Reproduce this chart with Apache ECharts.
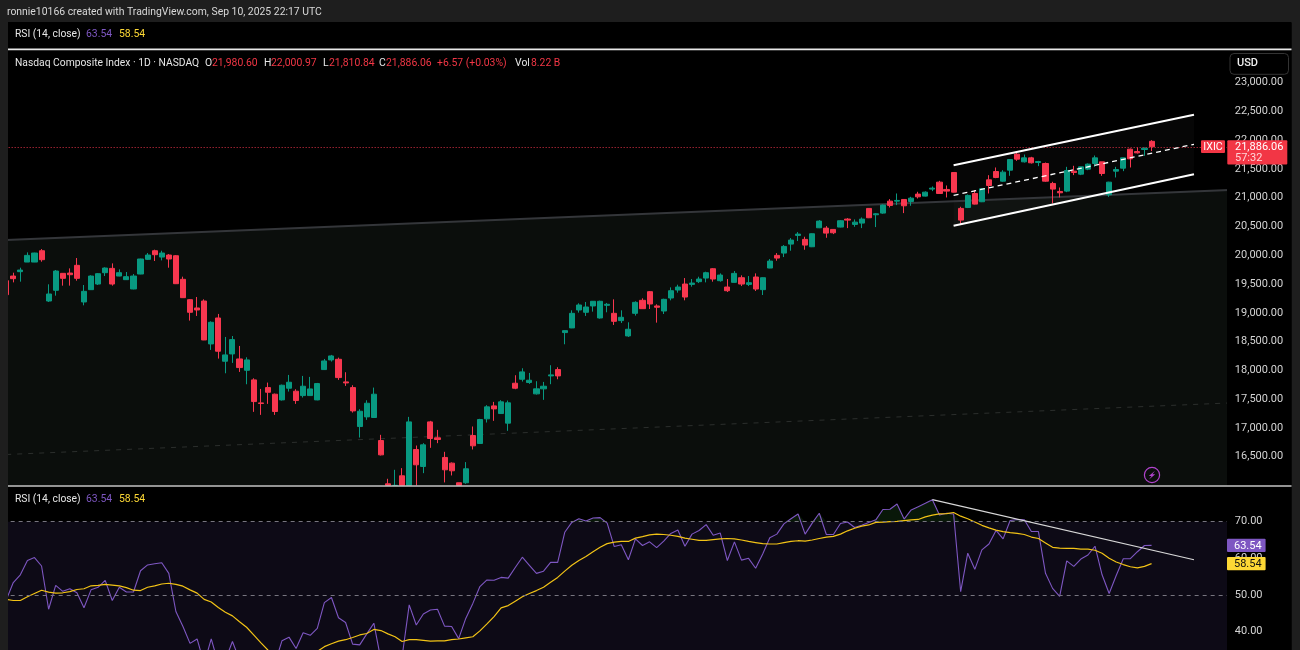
<!DOCTYPE html>
<html><head><meta charset="utf-8">
<style>html,body{margin:0;padding:0;background:#000}#c{width:1300px;height:650px}</style>
<script src="https://cdn.jsdelivr.net/npm/echarts@6/dist/echarts.min.js"></script>
</head><body><div id="c"></div>
<script>
const opens=[19558,19639,19715,19882,19882,20079,19205,19391,19686,19691,19825,19188,19402,19500,19697,19772,19639,19576,19414,19674,19929,20079,19969,20004,19992,19582,19228,19084,19205,18459,18910,18158,18285,18198,18001,17834,17434,17700,17585,17486,17689,17637,17561,17561,17486,18013,18181,18192,17799,17700,17023,17191,17180,16780,16028,15600,16167,15750,16624,16329,17104,16827,16486,16387,16046,16046,16867,16729,17157,17382,17249,17082,17776,17845,17788,17591,17678,17903,18013,18656,18737,19049,19009,19119,18910,19130,18991,18864,18598,18991,19217,19367,19119,19031,19257,19396,19500,19494,19541,19604,19766,19558,19448,19529,19610,19494,19622,19402,19778,19998,20038,20194,20345,20276,20148,20478,20472,20449,20490,20629,20536,20559,20814,20704,20733,20941,20941,20970,20935,21063,21028,21150,21271,21144,21439,20814,20831,21074,20930,21311,21456,21288,21479,21757,21624,21693,21612,21595,21248,21109,21115,21462,21410,21497,21595,21624,21051,21462,21514,21844,21803,21838,21980.6];
const closes=[19315,19593,19743,19998,20039,19923,19327,19726,19599,19662,19599,19373,19639,19680,19778,19500,19697,19628,19639,19935,20004,20010,20039,19935,19506,19263,19009,19049,18528,18835,18332,18268,18534,18048,18181,17457,17423,17619,17284,17741,17793,17475,17724,17677,17770,18163,18250,17874,17781,17295,17289,17428,17585,16531,15850,15900,15800,17104,16358,16705,16815,16798,16271,16254,15850,16289,16688,17145,17365,17330,17452,17435,17689,17973,17828,17678,17724,17921,17903,18690,18991,19136,19101,19200,19200,19148,18852,18922,18714,19182,19072,19153,19096,19234,19384,19448,19274,19517,19587,19697,19587,19656,19384,19685,19500,19523,19413,19610,19899,19951,20154,20264,20368,20177,20374,20594,20385,20391,20600,20611,20576,20629,20652,20721,20872,20866,20953,20860,20993,21016,21097,21167,21074,21115,21097,20611,21040,20889,21155,21213,21352,21445,21665,21670,21693,21607,21630,21288,21150,21086,21474,21439,21537,21584,21693,21421,21271,21491,21693,21676,21780,21861,21886.06];
const lows=[19300,19529,19541,19882,19880,19888,19188,19298,19472,19472,19558,19130,19400,19483,19639,19472,19635,19570,19408,19670,19917,19900,19911,19784,19500,19257,18864,18945,18525,18355,18204,17949,18129,17972,17758,17278,17226,17417,17226,17475,17631,17417,17527,17556,17480,18007,18152,17834,17729,17266,16832,17139,17174,16520,15700,15500,15700,15600,15900,16213,16653,16734,16052,16173,15800,16028,16624,16723,17093,17122,17244,16948,17672,17805,17764,17579,17487,17759,17845,18453,18733,19003,18945,19020,18899,19009,18789,18823,18580,18951,19066,19066,18829,18979,19217,19350,19217,19454,19517,19529,19541,19541,19361,19523,19465,19465,19379,19309,19775,19905,19969,20079,20247,20096,20142,20472,20304,20368,20484,20472,20495,20472,20646,20490,20721,20831,20872,20733,20860,20987,21022,21115,21070,21005,21091,20542,20820,20883,20924,21074,21340,21277,21381,21641,21612,21595,21549,21277,20901,21005,21097,21393,21393,21479,21537,21381,21016,21352,21462,21526,21769,21728,21810.84];
const highs=[19580,19697,19784,20050,20044,20108,19495,19744,19691,19772,19952,19483,19651,19691,19790,19859,19755,19709,19674,19940,20039,20097,20079,20021,20004,19628,19240,19275,19234,18852,18980,18580,18597,18424,18227,17862,17677,17787,17596,17752,17920,17671,17903,17886,17781,18198,18268,18221,17967,17741,17324,17480,17700,16879,16115,16271,16300,17191,16693,16734,17122,16965,16584,16399,16046,16405,17024,17157,17394,17452,17481,17475,17915,18036,17955,17811,17799,18089,18054,18690,19043,19165,19188,19205,19211,19171,19234,19043,18835,19200,19252,19379,19148,19245,19442,19488,19604,19587,19627,19714,19778,19685,19587,19726,19651,19639,19685,19616,19934,20038,20177,20299,20403,20322,20380,20611,20507,20455,20611,20646,20623,20657,20820,20733,20883,20976,21074,20976,21016,21103,21110,21196,21294,21213,21445,20843,21057,21132,21167,21392,21526,21479,21665,21786,21751,21711,21641,21612,21277,21178,21537,21555,21537,21595,21734,21624,21277,21537,21693,21855,21873,21873,22000.97];
const rsiValues=[48.6,53.4,55.5,59.4,60.2,57.9,46.1,52.6,51.0,51.7,50.6,46.5,51.4,52.1,54.0,48.5,52.1,50.8,50.8,56.6,58.2,58.5,58.8,55.9,45.5,41.4,36.8,38.0,31.3,38.0,31.3,32.3,37.3,32.3,30.4,27.7,25.9,26.3,31.3,37.5,38.5,35.4,39.7,39.0,40.9,47.9,49.3,43.8,42.5,36.6,36.4,39.4,42.3,32.3,30.4,30.4,33.2,47.3,41.8,44.8,45.9,46.1,41.5,41.4,38.1,43.6,47.7,52.3,54.1,54.0,54.8,54.6,57.5,60.3,58.1,55.9,56.5,58.9,58.9,67.1,69.8,70.8,70.2,71.0,71.1,69.6,63.2,63.7,59.6,65.3,63.5,64.5,62.9,64.7,66.8,67.7,63.3,66.6,67.6,69.2,66.3,66.9,59.4,64.5,59.5,60.0,57.3,61.2,65.6,66.6,69.4,70.8,72.1,66.6,69.6,72.3,66.5,66.5,69.5,69.9,68.4,69.0,69.8,70.5,73.3,73.4,74.8,70.7,73.2,74.1,75.0,76.0,71.8,72.3,72.1,50.9,61.4,57.0,62.3,63.9,67.6,65.3,70.3,70.6,70.5,67.3,67.3,55.9,51.8,49.6,59.3,57.8,59.8,60.9,63.3,55.5,50.4,55.3,59.9,59.9,61.8,63.5,63.54];
const rsiMA=[48.8,48.5,48.5,49.5,50.4,51.3,50.8,50.5,50.6,50.9,51.5,51.7,52.5,52.6,52.9,52.7,52.5,52.0,51.3,51.2,52.1,52.5,53.0,53.2,52.9,52.4,51.4,50.5,48.8,48.1,46.6,45.3,44.3,42.7,41.2,39.1,37.0,35.0,33.6,32.7,32.1,31.8,32.4,33.6,34.6,35.9,36.7,37.4,37.8,38.4,39.1,39.5,40.6,40.3,39.4,38.6,37.3,37.8,37.8,37.6,37.4,37.5,37.5,37.8,38.0,38.3,38.6,40.2,42.1,44.1,46.5,47.1,48.3,49.5,50.4,51.2,52.1,53.5,54.8,56.5,58.1,59.4,60.5,61.8,63.0,64.0,64.4,64.6,64.6,65.5,65.9,66.4,66.6,66.5,66.3,66.0,65.5,65.2,64.9,64.9,65.1,65.3,65.4,65.3,65.0,64.6,64.3,64.0,63.9,63.9,64.3,64.6,64.8,64.7,65.0,65.4,65.8,66.0,66.6,67.5,68.2,68.8,69.1,69.8,69.9,70.0,70.1,70.3,70.5,70.6,71.3,71.8,72.1,72.2,72.5,71.5,70.8,69.9,69.0,68.3,67.7,67.3,67.0,66.8,66.5,65.8,65.4,64.2,63.0,62.8,62.7,62.7,62.5,62.5,62.2,61.4,60.0,59.0,58.3,57.7,57.4,57.8,58.54];
// drawings, as [bar index, value]
const channelTop=[[134,21564],[168,22443]];
const channelMid=[[134,21042],[168,21929]];
const channelBottom=[[134,20514],[168,21407]];
const regressionUpper=[[0,20265],[173,21136]];
const regressionLower=[[0,16537],[173,17433]];
const rsiTrend=[[131,76.0],[168,59.6]];
const lastClose=21886.06, lastRsi=63.54, lastMA=58.54;
const paneFloor=16000;

const categories=Array.from({length:174},(_,i)=>String(i));
const floorAt=v=>Math.max(v,paneFloor);
const ohlc=opens.map((o,i)=>[floorAt(o),floorAt(closes[i]),floorAt(lows[i]),floorAt(highs[i])]);
const UP='#089981',DOWN='#f7374f',FONT='Roboto, "Noto Sans", sans-serif';
const fmt=v=>v.toLocaleString('en-US',{minimumFractionDigits:2,maximumFractionDigits:2});
const band=(a,b,fill,z)=>({type:'custom',xAxisIndex:0,yAxisIndex:0,silent:true,z,
  data:[[a[0][0],a[0][1],b[0][1],a[1][0],a[1][1],b[1][1]]],
  renderItem:(p,api)=>{const v=api.value;
    const pts=[api.coord([v(0),v(1)]),api.coord([v(3),v(4)]),api.coord([v(3),v(5)]),api.coord([v(0),v(2)])];
    return {type:'polygon',shape:{points:pts},style:{fill}};}});
const seg=(data,color,width,dash,x,z)=>({type:'line',xAxisIndex:x,yAxisIndex:x,data,symbol:'none',silent:true,z:z||3,clip:true,
  lineStyle:{color,width,type:dash||'solid'}});
const axisCommon=(skip)=>({type:'value',position:'right',scale:false,splitLine:{show:false},axisLine:{show:false},axisTick:{show:false},z:110,
  axisLabel:{color:'#d4d4d4',fontFamily:FONT,fontSize:11,margin:2,padding:[5,0,0,0],showMinLabel:true,showMaxLabel:true,
    formatter:v=>skip.includes(v)?'':fmt(v)}});
const option={animation:false,backgroundColor:'#000',
 grid:[{left:2.67,top:53.9,width:1230.2,height:431.5,outerBoundsMode:'none'},{left:2.67,top:485,width:1230.2,height:183.3,outerBoundsMode:'none'}],
 xAxis:[0,1].map(g=>({type:'category',gridIndex:g,data:categories,show:false,boundaryGap:true})),
 yAxis:[
  Object.assign(axisCommon([16000,23500]),{gridIndex:0,min:16000,max:23500,interval:500}),
  Object.assign(axisCommon([30,80]),{gridIndex:1,min:30,max:80,interval:10})
 ],
 series:[
  band(regressionUpper,[[0,16000],[173,16000]],'#0b0e0c',0),
  band(channelTop,channelBottom,'rgba(255,255,255,0.022)',1),
  seg(regressionLower,'#2b2e2c',1,[5,6],0,2),
  seg(regressionUpper,'#34363a',2,null,0,2),
  {type:'candlestick',xAxisIndex:0,yAxisIndex:0,data:ohlc,barWidth:5.6,z:4,silent:true,clip:true,
   itemStyle:{color:UP,color0:DOWN,borderColor:UP,borderColor0:DOWN,borderWidth:1},
   markLine:{silent:true,symbol:'none',label:{show:false},animation:false,
     lineStyle:{color:'#f7374f',type:[1,2],width:1,opacity:.9},data:[{yAxis:lastClose}]}},
  seg(channelTop,'#ffffff',2,null,0,5),
  seg(channelBottom,'#ffffff',2,null,0,5),
  seg(channelMid,'#ffffff',1.3,[5,4],0,5),
  {type:'line',xAxisIndex:1,yAxisIndex:1,data:rsiValues.map(v=>Math.max(v,70)),symbol:'none',silent:true,z:2,
   lineStyle:{opacity:0},areaStyle:{origin:70,color:'rgba(40,110,40,0.22)',opacity:1}},
  {type:'line',xAxisIndex:1,yAxisIndex:1,data:rsiValues,symbol:'none',silent:true,z:3,lineStyle:{color:'#7e57c2',width:1.1},
   markArea:{silent:true,itemStyle:{color:'#0d0a16'},data:[[{yAxis:70},{yAxis:30}]]},
   markLine:{silent:true,symbol:'none',label:{show:false},animation:false,
     lineStyle:{color:'#77757f',type:[4,4],width:1},data:[{yAxis:70},{yAxis:50}]}},
  {type:'line',xAxisIndex:1,yAxisIndex:1,data:rsiMA,symbol:'none',silent:true,z:4,lineStyle:{color:'#f2c316',width:1.2}},
  seg(rsiTrend,'#d8d8d8',1.2,null,1,5)
 ]};
const chart=echarts.init(document.getElementById('c'),null,{renderer:'canvas'});
chart.setOption(option);

const rect=(x,y,w,h,fill,z,extra)=>Object.assign({type:'rect',shape:{x,y,width:w,height:h},style:{fill},z:z||100,silent:true},extra||{});
const txt=(x,y,text,fill,size,weight,align)=>({type:'text',x,y,z:130,silent:true,style:{text,fill,font:`${weight||400} ${size||10.4}px Roboto`,textAlign:align||'left',textVerticalAlign:'middle'}});
const yP=chart.convertToPixel({yAxisIndex:0},lastClose), yR=chart.convertToPixel({yAxisIndex:1},lastRsi), yM=chart.convertToPixel({yAxisIndex:1},lastMA);
const WHITE='#e6e6e6',RED='#f23645',PUR='#7e57c2',YEL='#fdd835',BOLT='#b044cc';
const graphic=[
  rect(0,0,8,650,'#1e1e1e'),rect(0,0,1300,22,'#1e1e1e'),rect(1291.5,0,8.5,650,'#1e1e1e'),
  rect(1227,23,64.5,627,'#000'),
  rect(8,22,1283.5,26.5,'#000',99),
  rect(8,48.4,1283.5,1.8,'#e8e8e8',101),rect(8,485.2,1283.5,1.6,'#c4c4c4',101),
  txt(7,12.5,'ronnie10166 created with TradingView.com, Sep 10, 2025 22:17 UTC','#d8d8d8',10.4),
  txt(15,34.5,'RSI (14, close)',WHITE,10.3),txt(86,34.5,'63.54',PUR,10.4),txt(119,34.5,'58.54',YEL,10.4),
  txt(15,63,'Nasdaq Composite Index · 1D · NASDAQ',WHITE,10.3),
  txt(205,63,'O',WHITE),txt(212,63,'21,980.60',RED),txt(264,63,'H',WHITE),txt(271,63,'22,000.97',RED),
  txt(323,63,'L',WHITE),txt(329,63,'21,810.84',RED),txt(379,63,'C',WHITE),txt(386,63,'21,886.06',RED),
  txt(437,63,'+6.57 (+0.03%)',RED),txt(515,63,'Vol',WHITE),txt(531,63,'8.22 B',RED),
  txt(15,499.5,'RSI (14, close)',WHITE,10.3),txt(86,499.5,'63.54',PUR,10.4),txt(119,499.5,'58.54',YEL,10.4),
  {type:'rect',shape:{x:1230,y:53.5,width:58.5,height:20.8,r:4},style:{fill:'#000',stroke:'#333',lineWidth:1},z:120,silent:true},
  txt(1237,63.6,'USD','#f0f0f0',11,500),
  {type:'circle',shape:{cx:1152,cy:475,r:7.6},style:{fill:'#0b0e0c',stroke:BOLT,lineWidth:1.2},z:120,silent:true},
  {type:'polygon',shape:{points:[[1155,470.8],[1148.8,476],[1151.5,476],[1149,479.4],[1155.2,474.2],[1152.4,474.2]]},style:{fill:BOLT},z:121,silent:true},
  {type:'rect',shape:{x:1201,y:yP-6.6,width:24,height:12.8,r:1},style:{fill:RED},z:120,silent:true},
  txt(1213,yP+0.5,'IXIC','#fff',10.6,400,'center'),
  {type:'rect',shape:{x:1227.3,y:yP-6.6,width:60,height:24.4,r:1},style:{fill:RED},z:120,silent:true},
  txt(1235,yP+0.5,fmt(lastClose),'#fff',11),txt(1235,yP+11.5,'57:32','#ffd5d9',11),
  {type:'rect',shape:{x:1227,y:yR-6.7,width:38.6,height:13.4,r:1},style:{fill:PUR},z:120,silent:true},
  txt(1234,yR+0.5,lastRsi.toFixed(2),'#fff',11),
  {type:'rect',shape:{x:1227,y:yM-6.7,width:38.6,height:13.4,r:1},style:{fill:YEL},z:120,silent:true},
  txt(1234,yM+0.5,lastMA.toFixed(2),'#111',11)
];
chart.setOption({graphic:{elements:graphic}});
</script></body></html>
